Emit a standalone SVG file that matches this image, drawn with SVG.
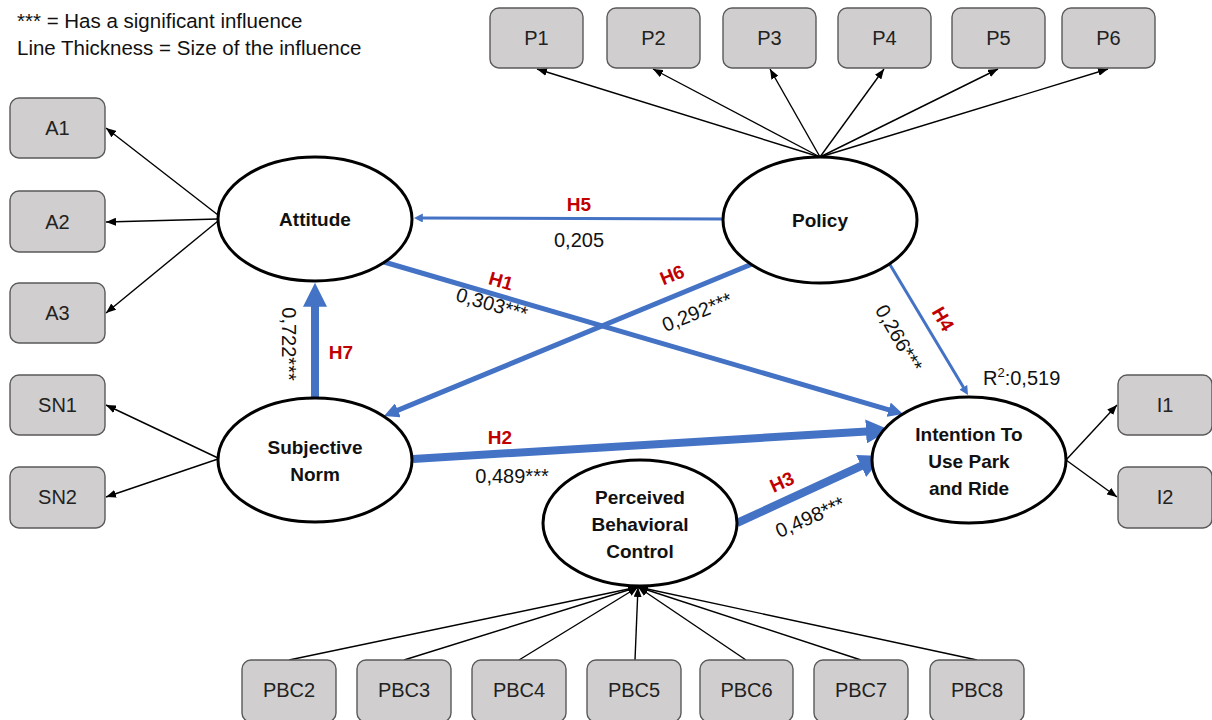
<svg xmlns="http://www.w3.org/2000/svg" width="1212" height="720" viewBox="0 0 1212 720">
<style>
  .box{fill:#D0CECE;stroke:#5A5A5A;stroke-width:1.4}
  .blab{font-family:"Liberation Sans",Arial,sans-serif;font-size:20px;fill:#222;text-anchor:middle;dominant-baseline:central}
  .ell{fill:#fff;stroke:#000;stroke-width:3}
  .nlab{font-family:"Liberation Sans",Arial,sans-serif;font-size:19px;font-weight:bold;fill:#111;text-anchor:middle;dominant-baseline:central}
  .thin{fill:none;stroke:#000;stroke-width:1.4;marker-end:url(#ab)}
  .path{fill:none;stroke:#4472C4;marker-end:url(#ablue)}
  .h{font-family:"Liberation Sans",Arial,sans-serif;font-size:19px;font-weight:bold;fill:#C00000;text-anchor:middle;dominant-baseline:central}
  .num{font-family:"Liberation Sans",Arial,sans-serif;font-size:20px;fill:#111;text-anchor:middle;dominant-baseline:central}
  .leg{font-family:"Liberation Sans",Arial,sans-serif;font-size:20.5px;fill:#111}
</style>
<defs>
  <marker id="ab" viewBox="0 0 10 8" refX="10" refY="4" markerWidth="10" markerHeight="8" markerUnits="userSpaceOnUse" orient="auto">
    <path d="M0,0 L10,4 L0,8 z" fill="#000"/>
  </marker>
  <marker id="ablue" viewBox="0 0 10 10" refX="2" refY="5" markerWidth="3" markerHeight="3" markerUnits="strokeWidth" orient="auto">
    <path d="M0,0 L10,5 L0,10 z" fill="#4472C4"/>
  </marker>
</defs>
<rect width="1212" height="720" fill="#fff"/>

<g id="legend">
  <text class="leg" x="17" y="28">*** = Has a significant influence</text>
  <text class="leg" x="17" y="55">Line Thickness = Size of the influence</text>
</g>

<g id="connectors">
  <!-- Attitude indicators -->
  <line class="thin" x1="218" y1="215" x2="106" y2="128"/>
  <line class="thin" x1="218" y1="219" x2="106" y2="222"/>
  <line class="thin" x1="218" y1="221" x2="106" y2="313"/>
  <!-- SN indicators -->
  <line class="thin" x1="218" y1="458" x2="106" y2="405"/>
  <line class="thin" x1="218" y1="459" x2="106" y2="497"/>
  <!-- Policy indicators -->
  <line class="thin" x1="820" y1="157" x2="537" y2="69"/>
  <line class="thin" x1="820" y1="157" x2="653" y2="69"/>
  <line class="thin" x1="820" y1="157" x2="770" y2="69"/>
  <line class="thin" x1="820" y1="157" x2="884" y2="69"/>
  <line class="thin" x1="820" y1="157" x2="998" y2="69"/>
  <line class="thin" x1="820" y1="157" x2="1108" y2="69"/>
  <!-- Intention indicators -->
  <line class="thin" x1="1066" y1="460" x2="1117" y2="405"/>
  <line class="thin" x1="1066" y1="460" x2="1117" y2="497"/>
  <!-- PBC indicators -->
  <line class="thin" x1="289" y1="660" x2="638" y2="587"/>
  <line class="thin" x1="404" y1="660" x2="638" y2="587"/>
  <line class="thin" x1="519" y1="660" x2="638" y2="587"/>
  <line class="thin" x1="635" y1="660" x2="638" y2="587"/>
  <line class="thin" x1="746" y1="660" x2="638" y2="587"/>
  <line class="thin" x1="861" y1="660" x2="638" y2="587"/>
  <line class="thin" x1="977" y1="660" x2="638" y2="587"/>
  <!-- structural paths -->
  <line class="path" stroke-width="3" x1="723" y1="219" x2="421" y2="218"/>
  <line class="path" stroke-width="5" x1="384" y1="262" x2="891.5" y2="410.6"/>
  <line class="path" stroke-width="5" x1="752" y1="264" x2="395.1" y2="411.4"/>
  <line class="path" stroke-width="3" x1="889" y1="263" x2="964.3" y2="388.8"/>
  <line class="path" stroke-width="8" x1="315" y1="398" x2="315" y2="302"/>
  <line class="path" stroke-width="8" x1="413" y1="459" x2="870.8" y2="431.2"/>
  <line class="path" stroke-width="8" x1="737" y1="523" x2="865.5" y2="464"/>
</g>

<g id="path-labels">
  <text class="h" x="579" y="204">H5</text>
  <text class="num" x="579" y="240">0,205</text>
  <text class="h" transform="translate(501,281) rotate(16)">H1</text>
  <text class="num" transform="translate(492,304) rotate(16)">0,303***</text>
  <text class="h" transform="translate(672,275) rotate(-22)">H6</text>
  <text class="num" transform="translate(697,312) rotate(-22)">0,292***</text>
  <text class="h" transform="translate(943,319) rotate(60)">H4</text>
  <text class="num" transform="translate(899,338) rotate(60)">0,266***</text>
  <text class="h" x="341" y="352">H7</text>
  <text class="num" transform="translate(289,344) rotate(90)">0,722***</text>
  <text class="h" x="500" y="437">H2</text>
  <text class="num" x="512" y="476">0,489***</text>
  <text class="h" transform="translate(782,482) rotate(-24)">H3</text>
  <text class="num" transform="translate(810,517) rotate(-24)">0,498***</text>
  <text class="num" x="983" y="378" style="text-anchor:start">R<tspan font-size="13" dy="-6">2</tspan><tspan dy="6">:0,519</tspan></text>
</g>

<g id="A1"><rect class="box" x="10" y="98" width="95" height="60" rx="9"/><text class="blab" x="57.5" y="128">A1</text></g>
<g id="A2"><rect class="box" x="10" y="191" width="95" height="61" rx="9"/><text class="blab" x="57.5" y="222">A2</text></g>
<g id="A3"><rect class="box" x="10" y="283" width="95" height="60" rx="9"/><text class="blab" x="57.5" y="313">A3</text></g>
<g id="SN1"><rect class="box" x="10" y="375" width="95" height="60" rx="9"/><text class="blab" x="57.5" y="405">SN1</text></g>
<g id="SN2"><rect class="box" x="10" y="467" width="95" height="61" rx="9"/><text class="blab" x="57.5" y="497">SN2</text></g>

<g id="P1"><rect class="box" x="490" y="8" width="93" height="60" rx="9"/><text class="blab" x="536.5" y="38">P1</text></g>
<g id="P2"><rect class="box" x="607" y="8" width="93" height="60" rx="9"/><text class="blab" x="653.5" y="38">P2</text></g>
<g id="P3"><rect class="box" x="723" y="8" width="93" height="60" rx="9"/><text class="blab" x="769.5" y="38">P3</text></g>
<g id="P4"><rect class="box" x="838" y="8" width="93" height="60" rx="9"/><text class="blab" x="884.5" y="38">P4</text></g>
<g id="P5"><rect class="box" x="952" y="8" width="93" height="60" rx="9"/><text class="blab" x="998.5" y="38">P5</text></g>
<g id="P6"><rect class="box" x="1062" y="8" width="93" height="60" rx="9"/><text class="blab" x="1108.5" y="38">P6</text></g>

<g id="I1"><rect class="box" x="1118" y="375" width="94" height="60" rx="9"/><text class="blab" x="1165" y="405">I1</text></g>
<g id="I2"><rect class="box" x="1118" y="467" width="94" height="61" rx="9"/><text class="blab" x="1165" y="497">I2</text></g>

<g id="PBC2"><rect class="box" x="242" y="660" width="94" height="62" rx="9"/><text class="blab" x="289" y="690">PBC2</text></g>
<g id="PBC3"><rect class="box" x="357" y="660" width="94" height="62" rx="9"/><text class="blab" x="404" y="690">PBC3</text></g>
<g id="PBC4"><rect class="box" x="472" y="660" width="94" height="62" rx="9"/><text class="blab" x="519" y="690">PBC4</text></g>
<g id="PBC5"><rect class="box" x="587" y="660" width="94" height="62" rx="9"/><text class="blab" x="634" y="690">PBC5</text></g>
<g id="PBC6"><rect class="box" x="700" y="660" width="93" height="62" rx="9"/><text class="blab" x="746.5" y="690">PBC6</text></g>
<g id="PBC7"><rect class="box" x="814" y="660" width="94" height="62" rx="9"/><text class="blab" x="861" y="690">PBC7</text></g>
<g id="PBC8"><rect class="box" x="930" y="660" width="94" height="62" rx="9"/><text class="blab" x="977" y="690">PBC8</text></g>

<g id="Attitude"><ellipse class="ell" cx="315" cy="219" rx="97" ry="62"/><text class="nlab" x="315" y="219">Attitude</text></g>
<g id="Policy"><ellipse class="ell" cx="820" cy="220" rx="97" ry="63"/><text class="nlab" x="820" y="220">Policy</text></g>
<g id="SubjectiveNorm"><ellipse class="ell" cx="315" cy="460" rx="97" ry="62"/><text class="nlab" x="315" y="447">Subjective</text><text class="nlab" x="315" y="474">Norm</text></g>
<g id="Intention"><ellipse class="ell" cx="969" cy="460" rx="97" ry="63"/><text class="nlab" x="969" y="434">Intention To</text><text class="nlab" x="969" y="461">Use Park</text><text class="nlab" x="969" y="488">and Ride</text></g>
<g id="PBC"><ellipse class="ell" cx="640" cy="523" rx="97" ry="63"/><text class="nlab" x="640" y="497">Perceived</text><text class="nlab" x="640" y="524">Behavioral</text><text class="nlab" x="640" y="551">Control</text></g>
</svg>
